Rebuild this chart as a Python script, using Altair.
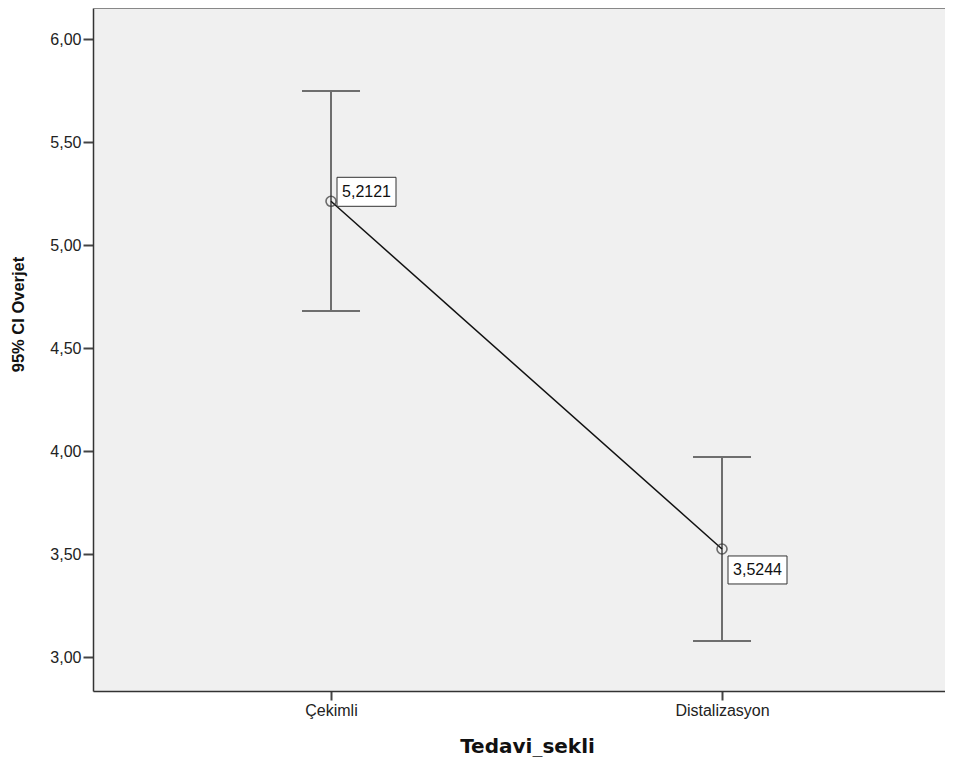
import json
import altair as alt
import pandas as pd

categories = ["Çekimli", "Distalizasyon"]
means = [5.2121, 3.5244]
lower = [4.680, 3.078]
upper = [5.748, 3.971]
mean_labels = ["5,2121", "3,5244"]
y_ticks = [3.0, 3.5, 4.0, 4.5, 5.0, 5.5, 6.0]

df = pd.DataFrame({"idx": list(range(len(categories))), "cat": categories, "mean": means,
                   "lo": lower, "hi": upper, "lab": mean_labels})

W, H = 852, 683
xs = alt.Scale(domain=[-0.6087, 1.5703], nice=False, zero=False)
ys = alt.Scale(domain=[2.835, 6.1505], nice=False, zero=False)

x_axis = alt.Axis(title="Tedavi_sekli", values=[0, 1], grid=False,
                  labelExpr=json.dumps(categories, ensure_ascii=False) + "[datum.value]",
                  tickSize=9, tickWidth=2, tickColor="#444", domainColor="#333", domainWidth=1.5,
                  labelFont="Liberation Sans", labelFontSize=16, labelColor="#222",
                  labelPadding=2, labelFlush=False, titleFont="DejaVu Sans", titleFontSize=20,
                  titleFontWeight="bold", titleColor="#111", titleY=55, titleX=434,
                  titleBaseline="middle", titleAlign="center")
y_axis = alt.Axis(title="95% CI Overjet", values=y_ticks, grid=False, tickSize=10, tickWidth=2,
                  tickColor="#444", domainColor="#333", domainWidth=1.5,
                  labelExpr="replace(format(datum.value, '.2f'), '.', ',')",
                  labelFont="Liberation Sans", labelFontSize=16, labelColor="#222", labelPadding=2,
                  titleFont="Liberation Sans, Arial, sans-serif", titleFontSize=16.5,
                  titleFontWeight="bold", titleColor="#111", titleX=-75, titleY=306,
                  titleAlign="center", titleBaseline="middle", titleAngle=-90)

base = alt.Chart(df)
X = alt.X("idx:Q", scale=xs)

err = base.mark_rule(color="#6e6e6e", strokeWidth=2).encode(
    x=alt.X("idx:Q", scale=xs, axis=x_axis),
    y=alt.Y("lo:Q", scale=ys, axis=y_axis), y2="hi:Q")
caps_hi = base.mark_rule(color="#6e6e6e", strokeWidth=2, xOffset=-29, x2Offset=29).encode(
    x=X, x2="idx:Q", y=alt.Y("hi:Q", scale=ys))
caps_lo = base.mark_rule(color="#6e6e6e", strokeWidth=2, xOffset=-29, x2Offset=29).encode(
    x=X, x2="idx:Q", y=alt.Y("lo:Q", scale=ys))
line = base.mark_line(color="#111", strokeWidth=1.5).encode(
    x=X, y=alt.Y("mean:Q", scale=ys))
pts = base.mark_point(shape="circle", filled=False, size=100, color="#333", strokeWidth=1.6).encode(
    x=X, y=alt.Y("mean:Q", scale=ys))

# top frame line of the plot area (reference has no visible right border)
top_frame = alt.Chart(pd.DataFrame({"k": [0]})).mark_rule(color="#888", strokeWidth=2).encode(
    x=alt.value(0), x2=alt.value(W), y=alt.value(0))

def label_layer(cat, yoff, y2off, dy):
    b = base.transform_filter(alt.datum.cat == cat)
    rect = b.mark_rect(fill="white", stroke="#333", strokeWidth=1,
                       xOffset=6, x2Offset=65, yOffset=yoff, y2Offset=y2off).encode(
        x=X, x2="idx:Q", y=alt.Y("mean:Q", scale=ys), y2="mean:Q")
    txt = b.mark_text(font="Liberation Sans", fontSize=16, color="#111", align="center",
                      baseline="middle", dx=35.5, dy=dy).encode(
        x=X, y=alt.Y("mean:Q", scale=ys), text="lab:N")
    return rect + txt

lab1 = label_layer("Çekimli", -24, 5, -9.5)
lab2 = label_layer("Distalizasyon", 7, 35, 21)

chart = alt.layer(err, caps_hi, caps_lo, line, pts, top_frame, lab1, lab2).properties(
    width=W, height=H,
    autosize=alt.AutoSizeParams(type="none"),
    padding={"left": 85, "top": 0, "right": 0, "bottom": 66},
).configure_view(fill="#f0f0f0", stroke=None)

chart.save("out.html", embed_options={"renderer": "svg", "actions": False})
